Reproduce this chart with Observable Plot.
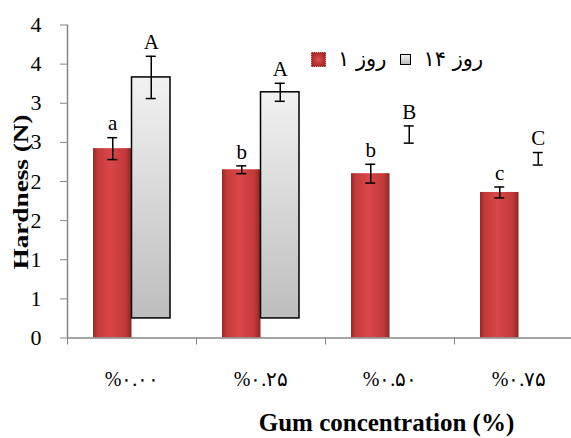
<!DOCTYPE html>
<html><head><meta charset="utf-8">
<script src="https://cdn.jsdelivr.net/npm/d3@7"></script>
<script src="https://cdn.jsdelivr.net/npm/@observablehq/plot@0.6"></script>
<style>
html,body{margin:0;padding:0;background:#fff;overflow:hidden;width:571px;height:438px}
#wrap{position:relative;width:571px;height:438px;overflow:hidden}
#chart svg{display:block}
#legend{position:absolute;left:311px;top:45px;height:28px;display:flex;align-items:center;font-family:"DejaVu Sans",sans-serif;font-size:21px;color:#000;white-space:nowrap}
.sw{display:inline-block;box-sizing:border-box;margin-right:12px}
.lab{margin-right:14px}
</style></head><body>
<div id="wrap"><div id="chart"></div><div id="legend"></div></div>
<script>
// ---- data ----
const categories = ["0.00", "0.25", "0.50", "0.75"];
const xTickLabels = ["%۰.۰۰", "%۰.۲۵", "%۰.۵۰", "%۰.۷۵"];
const seriesNames = ["روز ۱", "روز ۱۴"];
const day1 = [2.42, 2.15, 2.10, 1.86];
const day1Err = [0.14, 0.05, 0.12, 0.07];
const day1Letters = ["a", "b", "b", "c"];
const day14 = [3.33, 3.14, 2.60, 2.29];
const day14Err = [0.27, 0.115, 0.11, 0.08];
const day14Letters = ["A", "A", "B", "C"];
const day14BarShown = [true, true, false, false];
const day14Base = 0.25;
const yTicks = [0, 0.5, 1, 1.5, 2, 2.5, 3, 3.5, 4];
const yTickLabels = ["0", "1", "1", "2", "2", "3", "3", "4", "4"];
const xTitle = "Gum concentration (%)";
const yTitle = "Hardness (N)";

// ---- layout ----
const W = 571, H = 438, mL = 67, mR = 0, mT = 24.5, mB = 100.5;
const xRight = 583;              // the category bands run past the picture's right edge
const band = (xRight - mL) / categories.length;
const barW = 38.5;
const half = band / 2;
const off = barW / 2;
const capW = 10;
const serif = "Liberation Serif, Times New Roman, serif";
const axisGray = "#868686";

const rows1 = categories.map((c, i) => ({cat: c, v: day1[i], e: day1Err[i], letter: day1Letters[i]}));
const rows14 = categories.map((c, i) => ({cat: c, v: day14[i], e: day14Err[i], letter: day14Letters[i], show: day14BarShown[i]}));

const defs = () => {
  const d = d3.create("svg:defs");
  const r = d.append("linearGradient").attr("id", "gRed").attr("x1", 0).attr("x2", 1).attr("y1", 0).attr("y2", 0);
  [[0, "#9a2626"], [0.12, "#c43a3a"], [0.45, "#da4747"], [0.85, "#c23838"], [1, "#8e2424"]]
    .forEach(([o, c]) => r.append("stop").attr("offset", o).attr("stop-color", c));
  const g = d.append("linearGradient").attr("id", "gGray").attr("x1", 0).attr("x2", 0).attr("y1", 0).attr("y2", 1);
  [[0, "#f2f2f2"], [1, "#bdbdbd"]].forEach(([o, c]) => g.append("stop").attr("offset", o).attr("stop-color", c));
  return d.node();
};

const plot = Plot.plot({
  width: W, height: H,
  marginLeft: mL, marginRight: mR, marginTop: mT, marginBottom: mB,
  style: {background: "transparent", overflow: "hidden"},
  x: {domain: categories, range: [mL, xRight], padding: 0, axis: null},
  y: {domain: [0, 4], axis: null},
  marks: [
    defs,
    // axes
    Plot.axisY({ticks: yTicks, tickFormat: d => yTickLabels[yTicks.indexOf(d)], tickSize: 7, tickPadding: 19,
      fontSize: 22, fontFamily: serif, stroke: axisGray, fill: "black", label: null}),
    Plot.ruleX([categories[0]], {y1: 0, y2: 4, dx: -half, stroke: axisGray, strokeWidth: 1.5}),
    Plot.axisX({tickSize: 7, dx: -half, stroke: axisGray, fill: "none", label: null}),
    Plot.axisX({tickSize: 0, tickPadding: 34, tickFormat: d => xTickLabels[categories.indexOf(d)],
      fontSize: 20, fontFamily: serif, fill: "black", label: null}),
    // bars
    Plot.barY(rows1, {x: "cat", y: "v", fill: "url(#gRed)", insetLeft: half - barW, insetRight: half}),
    Plot.barY(rows14.filter(d => d.show), {x: "cat", y1: day14Base, y2: "v", fill: "url(#gGray)",
      stroke: "black", strokeWidth: 1.5, insetLeft: half, insetRight: half - barW}),
    Plot.ruleY([0], {stroke: axisGray, strokeWidth: 1.5}),
    // error bars
    Plot.ruleX(rows1, {x: "cat", y1: d => d.v - d.e, y2: d => d.v + d.e, dx: -off, stroke: "black", strokeWidth: 1.5}),
    Plot.tickY(rows1, {x: "cat", y: d => d.v + d.e, insetLeft: half - off - capW / 2, insetRight: half + off - capW / 2, stroke: "black", strokeWidth: 1.5}),
    Plot.tickY(rows1, {x: "cat", y: d => d.v - d.e, insetLeft: half - off - capW / 2, insetRight: half + off - capW / 2, stroke: "black", strokeWidth: 1.5}),
    Plot.ruleX(rows14, {x: "cat", y1: d => d.v - d.e, y2: d => d.v + d.e, dx: off, stroke: "black", strokeWidth: 1.5}),
    Plot.tickY(rows14, {x: "cat", y: d => d.v + d.e, insetLeft: half + off - capW / 2, insetRight: half - off - capW / 2, stroke: "black", strokeWidth: 1.5}),
    Plot.tickY(rows14, {x: "cat", y: d => d.v - d.e, insetLeft: half + off - capW / 2, insetRight: half - off - capW / 2, stroke: "black", strokeWidth: 1.5}),
    // letters
    Plot.text(rows1, {x: "cat", y: d => d.v + d.e, text: "letter", dx: -off, dy: -14, fontSize: 21, fontFamily: serif, fill: "black"}),
    Plot.text(rows14, {x: "cat", y: d => d.v + d.e, text: "letter", dx: off, dy: -14, fontSize: 21, fontFamily: serif, fill: "black"}),
    // titles
    Plot.text([yTitle], {frameAnchor: "left", textAnchor: "start", lineAnchor: "middle", rotate: -90, dx: 21 - mL, dy: 88,
      fontSize: 20, fontWeight: "bold", fontFamily: serif, fill: "black"}),
    Plot.text([xTitle], {frameAnchor: "bottom", textAnchor: "middle", lineAnchor: "middle", dx: 386 - (mL + W - mR) / 2, dy: 85,
      fontSize: 25, fontWeight: "bold", fontFamily: serif, fill: "black"})
  ]
});
d3.select(plot).selectAll("text").filter(function () { return this.textContent === yTitle; })
  .attr("textLength", 155).attr("lengthAdjust", "spacingAndGlyphs");
document.getElementById("chart").appendChild(plot);

// legend
const legend = d3.select("#legend");
const swatchStyles = [
  "width:15px;height:15px;background:radial-gradient(circle,#e05050,#b02c2c 70%,#962424);border:1px dotted #c98a8a",
  "width:11px;height:11px;background:linear-gradient(#f2f2f2,#bdbdbd);border:1.5px solid #000"
];
seriesNames.forEach((name, i) => {
  legend.append("span").attr("class", "sw").attr("style", swatchStyles[i]);
  legend.append("span").attr("class", "lab").text(name);
});
</script>
</body></html>
